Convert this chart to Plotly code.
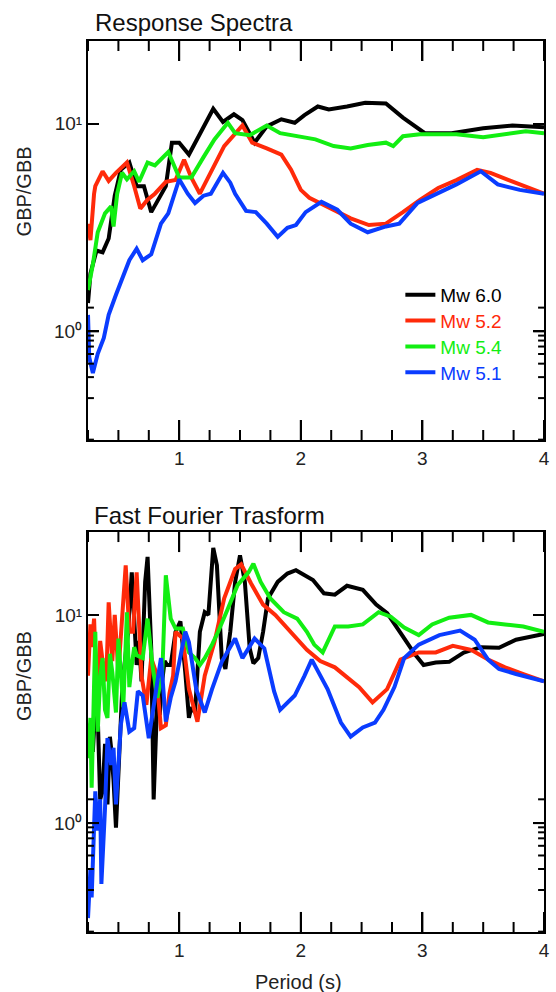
import math
import plotly.graph_objects as go

# ---------------- Data: Response Spectra (top) ----------------
rs_black_x = [0.25, 0.27, 0.32, 0.37, 0.42, 0.47, 0.52, 0.59, 0.65, 0.71, 0.77, 0.83, 0.89, 0.94, 1.0, 1.08, 1.19, 1.28, 1.36, 1.45, 1.52, 1.62, 1.72, 1.84, 1.95, 2.03, 2.14, 2.23, 2.38, 2.53, 2.70, 2.84, 3.02, 3.24, 3.50, 3.74, 4.0]
rs_black_y = [1.37, 1.9, 2.45, 2.4, 2.8, 4.5, 6.0, 6.5, 5.0, 5.0, 3.75, 4.3, 5.0, 8.1, 8.1, 7.1, 9.3, 11.8, 10.2, 11.1, 10.4, 8.1, 9.7, 10.5, 10.1, 11.0, 12.1, 11.7, 12.1, 12.6, 12.5, 10.7, 9.0, 9.0, 9.5, 9.8, 9.6]

rs_red_x = [0.25, 0.27, 0.30, 0.31, 0.37, 0.42, 0.48, 0.57, 0.63, 0.68, 0.74, 0.80, 0.89, 0.97, 1.04, 1.10, 1.17, 1.26, 1.37, 1.52, 1.60, 1.72, 1.84, 1.92, 2.0, 2.07, 2.18, 2.41, 2.56, 2.70, 2.84, 2.98, 3.13, 3.28, 3.45, 3.56, 3.71, 3.85, 4.0]
rs_red_y = [3.3, 2.75, 4.6, 5.0, 5.9, 5.3, 5.8, 6.5, 5.0, 3.9, 4.3, 4.6, 5.25, 5.35, 6.7, 5.5, 4.6, 5.8, 7.8, 9.8, 8.1, 7.6, 7.1, 6.0, 4.8, 4.4, 4.1, 3.5, 3.25, 3.3, 3.75, 4.3, 4.9, 5.35, 6.0, 5.8, 5.35, 5.0, 4.6]

rs_green_x = [0.25, 0.29, 0.33, 0.39, 0.44, 0.46, 0.49, 0.53, 0.57, 0.63, 0.67, 0.74, 0.80, 0.91, 1.0, 1.10, 1.20, 1.29, 1.40, 1.46, 1.58, 1.72, 1.83, 2.0, 2.12, 2.27, 2.41, 2.55, 2.70, 2.76, 2.84, 2.98, 3.28, 3.50, 3.71, 3.85, 4.0]
rs_green_y = [1.58, 2.1, 3.0, 3.7, 4.0, 3.2, 4.6, 5.8, 5.4, 5.9, 5.25, 6.5, 6.3, 7.3, 5.5, 5.5, 6.9, 8.4, 10.1, 9.0, 8.8, 9.8, 9.0, 8.6, 8.4, 7.8, 7.6, 7.9, 8.1, 7.8, 8.7, 8.9, 8.9, 8.6, 8.9, 9.2, 9.0]

rs_blue_x = [0.25, 0.26, 0.29, 0.33, 0.38, 0.42, 0.48, 0.54, 0.59, 0.65, 0.70, 0.77, 0.85, 0.91, 1.0, 1.07, 1.13, 1.20, 1.26, 1.36, 1.42, 1.46, 1.55, 1.63, 1.72, 1.81, 1.89, 1.96, 2.04, 2.17, 2.30, 2.41, 2.55, 2.70, 2.81, 2.96, 3.07, 3.28, 3.48, 3.62, 3.80, 4.0]
rs_blue_y = [1.2, 0.75, 0.63, 0.78, 0.93, 1.2, 1.5, 1.83, 2.2, 2.5, 2.2, 2.35, 3.3, 3.7, 5.4, 4.6, 4.15, 4.5, 4.6, 5.8, 5.2, 4.6, 3.8, 3.75, 3.3, 2.85, 3.15, 3.25, 3.75, 4.2, 3.85, 3.3, 3.0, 3.2, 3.3, 4.15, 4.45, 5.1, 5.9, 5.1, 4.8, 4.6]

# ---------------- Data: Fast Fourier Transform (bottom) ----------------
ff_black_x = [0.25, 0.27, 0.29, 0.31, 0.33, 0.35, 0.37, 0.39, 0.41, 0.43, 0.44, 0.46, 0.48, 0.51, 0.53, 0.55, 0.58, 0.61, 0.63, 0.65, 0.67, 0.69, 0.72, 0.74, 0.77, 0.79, 0.82, 0.84, 0.86, 0.88, 0.90, 0.93, 0.97, 1.01, 1.05, 1.08, 1.10, 1.13, 1.17, 1.21, 1.24, 1.28, 1.31, 1.35, 1.38, 1.42, 1.46, 1.50, 1.54, 1.58, 1.61, 1.65, 1.69, 1.73, 1.81, 1.89, 1.96, 2.10, 2.19, 2.28, 2.38, 2.51, 2.62, 2.71, 2.82, 2.94, 3.01, 3.11, 3.22, 3.34, 3.48, 3.63, 3.77, 3.94, 4.0]
ff_black_y = [2.2, 3.0, 2.2, 3.6, 3.3, 1.3, 1.42, 2.4, 1.23, 2.6, 2.3, 1.6, 0.95, 2.2, 4.2, 5.75, 8.3, 16, 9.0, 5.75, 7.5, 4.8, 14.4, 19, 6.9, 1.3, 4.0, 3.3, 4.8, 6.0, 5.75, 5.75, 8.3, 9.3, 5.3, 3.2, 3.6, 3.4, 8.3, 10.3, 10, 21, 17.3, 6.2, 5.5, 8.3, 14.4, 19.3, 14.4, 6.9, 5.85, 6.2, 8.3, 12, 14.4, 15.8, 16.4, 14.7, 12.7, 12.5, 13.8, 13.2, 11.2, 10.2, 8.2, 6.45, 5.75, 5.9, 5.95, 6.6, 7.0, 6.95, 7.6, 8.0, 8.1]

ff_red_x = [0.25, 0.27, 0.28, 0.30, 0.31, 0.33, 0.35, 0.37, 0.40, 0.42, 0.45, 0.47, 0.50, 0.53, 0.56, 0.59, 0.62, 0.65, 0.67, 0.69, 0.73, 0.77, 0.81, 0.85, 0.89, 0.92, 0.95, 0.97, 1.03, 1.08, 1.15, 1.21, 1.29, 1.37, 1.46, 1.51, 1.59, 1.69, 1.79, 1.90, 2.05, 2.16, 2.28, 2.48, 2.59, 2.71, 2.82, 2.97, 3.11, 3.25, 3.40, 3.54, 3.68, 3.83, 4.0]
ff_red_y = [5.1, 9.0, 7.0, 9.6, 6.5, 4.4, 7.5, 6.0, 4.8, 11.5, 6.0, 10, 5.3, 9.0, 17.3, 8.3, 8.3, 16, 8.0, 5.1, 3.7, 6.2, 5.3, 2.86, 2.95, 4.2, 5.1, 8.3, 7.7, 4.4, 3.07, 5.1, 7.4, 12, 16.6, 17.5, 14.2, 11.2, 10, 8.5, 6.8, 6.0, 5.6, 4.5, 3.8, 4.4, 6.1, 6.6, 6.6, 7.1, 6.8, 6.1, 5.6, 5.2, 4.8]

ff_green_x = [0.25, 0.27, 0.28, 0.30, 0.31, 0.33, 0.35, 0.37, 0.39, 0.41, 0.43, 0.45, 0.48, 0.50, 0.52, 0.54, 0.57, 0.59, 0.61, 0.63, 0.65, 0.70, 0.74, 0.78, 0.82, 0.86, 0.89, 0.93, 0.97, 1.03, 1.08, 1.13, 1.17, 1.21, 1.27, 1.32, 1.40, 1.48, 1.57, 1.61, 1.67, 1.75, 1.86, 1.97, 2.05, 2.11, 2.18, 2.28, 2.39, 2.51, 2.64, 2.74, 2.85, 2.97, 3.08, 3.22, 3.40, 3.54, 3.68, 3.83, 4.0]
ff_green_y = [2.05, 3.2, 1.48, 4.5, 8.3, 2.75, 5.0, 6.2, 3.5, 3.2, 6.5, 5.3, 3.4, 7.7, 4.8, 3.6, 10.3, 4.5, 5.75, 7.0, 6.4, 6.2, 9.6, 5.75, 4.0, 5.1, 15.5, 9.6, 8.6, 8.6, 6.6, 6.2, 5.75, 6.2, 7.2, 8.3, 10.7, 13.9, 16, 17.6, 14.4, 12, 10.3, 9.6, 8.3, 7.2, 6.6, 8.8, 8.8, 9.0, 10.3, 9.8, 8.7, 8.0, 9.0, 9.7, 10, 9.2, 9.0, 8.8, 8.3]

ff_blue_x = [0.25, 0.27, 0.28, 0.30, 0.31, 0.33, 0.35, 0.36, 0.38, 0.39, 0.41, 0.44, 0.46, 0.48, 0.52, 0.55, 0.59, 0.63, 0.66, 0.70, 0.75, 0.81, 0.85, 0.89, 0.93, 0.97, 1.05, 1.08, 1.14, 1.21, 1.27, 1.35, 1.46, 1.52, 1.62, 1.70, 1.78, 1.83, 1.95, 2.03, 2.09, 2.22, 2.33, 2.41, 2.51, 2.61, 2.68, 2.77, 2.85, 2.97, 3.14, 3.31, 3.43, 3.54, 3.63, 3.77, 4.0]
ff_blue_y = [0.35, 0.6, 0.44, 0.9, 1.42, 0.92, 1.3, 0.51, 0.8, 1.18, 2.56, 1.9, 2.3, 1.23, 2.97, 3.8, 2.75, 2.86, 4.3, 4.1, 2.56, 4.3, 6.2, 3.07, 4.0, 4.8, 8.3, 7.4, 4.4, 3.4, 4.4, 5.95, 7.7, 6.2, 7.7, 6.9, 4.3, 3.5, 4.1, 5.1, 6.1, 4.4, 3.04, 2.6, 2.88, 3.04, 3.5, 4.5, 6.2, 7.2, 8.0, 8.4, 7.6, 6.1, 5.5, 5.2, 4.8]

series_names = ["Mw 6.0", "Mw 5.2", "Mw 5.4", "Mw 5.1"]
series_colors = ["rgb(0,0,0)", "rgb(255,42,10)", "rgb(18,238,18)", "rgb(10,60,255)"]

x_tickvals = [1, 2, 3, 4]
x_minorvals = [0.25, 0.5, 0.75, 1.25, 1.5, 1.75, 2.25, 2.5, 2.75, 3.25, 3.5, 3.75]
y_tickvals = [1, 10]
y_ticktext = ["10\u2070", "10\u00b9"]
y_minorvals = [0.3, 0.4, 0.5, 0.6, 0.7, 0.8, 0.9, 2, 3, 4, 5, 6, 7, 8, 9, 20]

FONT = "Liberation Sans, Arial, sans-serif"
X_RANGE = [0.25, 4.0]
Y_RANGE = [-0.523, 1.398]
TOP_DOMAIN = [0.5522, 1.0]
BOT_DOMAIN = [0.0, 0.4489]
PLOT_W = 462.0
PLOT_H = 399.0

legend_keys = ["legend", "legend2", "legend3", "legend4"]
legend_rows_y = [0.715, 0.686, 0.657, 0.628]

fig = go.Figure()

rs = [(rs_black_x, rs_black_y), (rs_red_x, rs_red_y), (rs_green_x, rs_green_y), (rs_blue_x, rs_blue_y)]
ff = [(ff_black_x, ff_black_y), (ff_red_x, ff_red_y), (ff_green_x, ff_green_y), (ff_blue_x, ff_blue_y)]

for i, (xs, ys) in enumerate(rs):
    fig.add_trace(go.Scatter(
        x=xs, y=ys, mode="lines", xaxis="x", yaxis="y",
        line=dict(color=series_colors[i], width=4),
        name=series_names[i], legend=legend_keys[i], showlegend=True))

for i, (xs, ys) in enumerate(ff):
    fig.add_trace(go.Scatter(
        x=xs, y=ys, mode="lines", xaxis="x2", yaxis="y2",
        line=dict(color=series_colors[i], width=4),
        name=series_names[i], showlegend=False))

def xaxis_style(anchor):
    return dict(
        domain=[0, 1], anchor=anchor, range=X_RANGE,
        tickmode="array", tickvals=x_tickvals, ticks="inside", ticklen=20, tickwidth=2,
        tickcolor="black", showline=True, linecolor="black", linewidth=2, mirror="allticks",
        showgrid=False, zeroline=False,
        tickfont=dict(family=FONT, size=19, color="#222"))

def yaxis_style(anchor, domain):
    return dict(
        domain=domain, anchor=anchor, type="log", range=Y_RANGE,
        tickmode="array", tickvals=y_tickvals, ticktext=y_ticktext,
        ticks="inside", ticklen=11, tickwidth=2, tickcolor="black",
        showline=True, linecolor="black", linewidth=2, mirror="allticks",
        showgrid=False, zeroline=False,
        tickfont=dict(family=FONT, size=19, color="#222"))

# tick marks on all four sides, built from the tick value lists (lengths as domain fractions)
shapes = []
TICK_LINE = dict(color="black", width=2)
for xa, ya in [("x", "y"), ("x2", "y2")]:
    for vals, length in [(x_tickvals, 20), (x_minorvals, 10)]:
        f = length / PLOT_H
        for v in vals:
            shapes.append(dict(type="line", xref=xa, yref=ya + " domain",
                               x0=v, x1=v, y0=0, y1=f, line=TICK_LINE))
            shapes.append(dict(type="line", xref=xa, yref=ya + " domain",
                               x0=v, x1=v, y0=1, y1=1 - f, line=TICK_LINE))
    for vals, length in [(y_tickvals, 11), (y_minorvals, 6)]:
        f = length / PLOT_W
        for v in vals:
            lv = math.log10(v)
            shapes.append(dict(type="line", xref=xa + " domain", yref=ya,
                               x0=0, x1=f, y0=lv, y1=lv, line=TICK_LINE))
            shapes.append(dict(type="line", xref=xa + " domain", yref=ya,
                               x0=1, x1=1 - f, y0=lv, y1=lv, line=TICK_LINE))

legends = {}
for i, key in enumerate(legend_keys):
    legends[key] = dict(x=0.685, y=legend_rows_y[i], xanchor="left", yanchor="middle",
                        font=dict(family=FONT, size=19, color=series_colors[i]),
                        tracegroupgap=0, itemwidth=30, bgcolor="rgba(255,255,255,0)")

fig.update_layout(
    width=556, height=992,
    margin=dict(l=88, r=6, t=41, b=60),
    paper_bgcolor="white", plot_bgcolor="white",
    font=dict(family=FONT, size=19, color="#222"),
    xaxis=xaxis_style("y"),
    yaxis=yaxis_style("x", TOP_DOMAIN),
    xaxis2=xaxis_style("y2"),
    yaxis2=yaxis_style("x2", BOT_DOMAIN),
    shapes=shapes,
    showlegend=True,
    annotations=[
        dict(text="Response Spectra", xref="paper", yref="paper", x=0.011, y=1.0213,
             xanchor="left", yanchor="middle", showarrow=False,
             font=dict(family=FONT, size=24, color="#111")),
        dict(text="Fast Fourier Trasform", xref="paper", yref="paper", x=0.009, y=0.4669,
             xanchor="left", yanchor="middle", showarrow=False,
             font=dict(family=FONT, size=24, color="#111")),
        dict(text="GBP/GBB", xref="paper", yref="paper", x=-0.1407, y=0.831,
             xanchor="center", yanchor="middle", textangle=-90, showarrow=False,
             font=dict(family=FONT, size=20, color="#222")),
        dict(text="GBP/GBB", xref="paper", yref="paper", x=-0.1407, y=0.287,
             xanchor="center", yanchor="middle", textangle=-90, showarrow=False,
             font=dict(family=FONT, size=20, color="#222")),
        dict(text="Period (s)", xref="paper", yref="paper", x=0.461, y=-0.0561,
             xanchor="center", yanchor="middle", showarrow=False,
             font=dict(family=FONT, size=20, color="#222")),
    ],
    **legends,
)

fig.write_html("out.html")
